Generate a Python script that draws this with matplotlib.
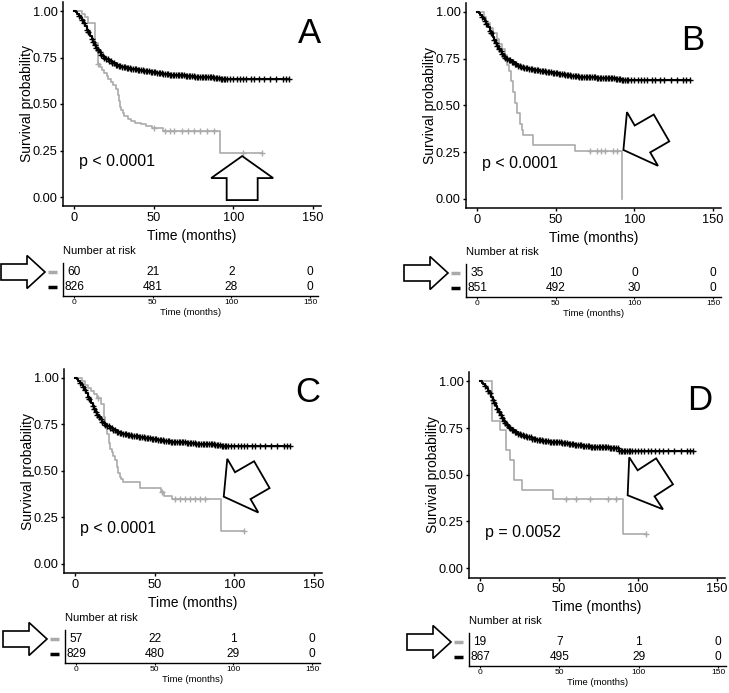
import numpy as np
import matplotlib
matplotlib.use('Agg')
import matplotlib.pyplot as plt
from matplotlib.patches import Polygon

plt.rcParams['font.family'] = ['Liberation Sans', 'DejaVu Sans']

# ---- data ----
# large group (black), nearly the same in every panel
BLACK_TIME = [0, 1, 2, 3, 4, 5, 6, 7, 8, 9, 10, 11, 12, 13, 14, 15, 16, 17, 18, 19,
              20, 22, 24, 26, 28, 30, 33, 36, 40, 44, 48, 52, 56, 60, 65, 70, 76, 82, 88, 92]
BLACK_SURV = [1.0, .993, .985, .975, .963, .95, .935, .918, .9, .885, .868, .852, .835, .818,
              .802, .789, .777, .766, .756, .748, .741, .73, .72, .712, .705, .70, .694, .688,
              .682, .677, .673, .668, .663, .658, .654, .65, .647, .645, .642, .637]
BLACK_SURV_D = [1.0, .993, .985, .975, .963, .95, .935, .918, .9, .885, .868, .852, .835, .818,
                .802, .789, .777, .766, .756, .748, .741, .73, .72, .712, .705, .70, .694, .688,
                .682, .677, .673, .668, .663, .658, .654, .65, .647, .643, .627, .625]
BLACK_CENSOR = [3, 5, 6, 8, 9, 11, 12, 13, 14, 15, 16, 17, 18, 19, 20, 21, 22, 23, 24, 25,
                26, 27, 28, 29, 30, 31, 32, 33, 34, 35, 36, 37, 38, 39, 40, 41, 42, 43, 44, 45,
                46, 47, 48, 49, 50, 51, 52, 53, 54, 55, 56, 57, 58, 59, 60, 61, 62, 63, 64, 65,
                66, 67, 68, 69, 70, 71, 72, 73, 74, 75, 76, 77, 78, 79, 80, 81, 82, 83, 84, 85,
                86, 87, 88, 89, 90, 91, 92, 93, 94, 95, 96, 98, 100, 102, 104, 106, 108, 111,
                113, 116, 119, 123, 127, 131, 133, 135]

# small group (gray), per panel
GRAY_TIME_A = [0, 5, 7, 9, 12.8, 14.7, 16, 17.5, 19, 20.5, 21.5, 23, 24.5, 26, 27.3, 28,
               28.7, 29.4, 30.5, 31.5, 33.5, 35.5, 38, 42, 45, 49, 56, 91.3]
GRAY_SURV_A = [1.0, .983, .967, .933, .83, .717, .70, .683, .667, .65, .633, .617, .60, .583,
               .55, .517, .483, .467, .45, .433, .42, .41, .40, .39, .38, .37, .355, .235]
GRAY_CENSOR_A = [15, 50.4, 57.1, 60.3, 62.4, 67.6, 71.8, 75, 79.1, 83.3, 87.5, 106.3, 117.8]

GRAY_TIME_B = [0, 4.7, 6, 8, 10, 12.5, 14, 16, 17.8, 19, 20, 21.5, 23, 24, 25.5, 27, 28.4,
               29.5, 35.8, 62.3, 92.4]
GRAY_SURV_B = [1.0, .971, .943, .914, .886, .857, .829, .80, .771, .714, .686, .629, .571,
               .514, .457, .40, .371, .343, .286, .257, 0.0]
GRAY_CENSOR_B = [71.8, 76, 79, 81.4, 86.7, 88.8]

GRAY_TIME_C = [0, 4, 6, 8, 10, 12, 14, 16, 18, 19, 20, 21, 22, 23, 24, 25, 26, 27, 28, 29,
               30, 40.7, 54, 56, 61, 91.5]
GRAY_SURV_C = [1.0, .982, .965, .947, .93, .912, .895, .86, .79, .737, .70, .65, .62, .60,
               .58, .56, .52, .49, .47, .456, .44, .41, .385, .368, .35, .175]
GRAY_CENSOR_C = [14.5, 54.3, 62.7, 65.9, 69, 72.1, 75.3, 78.4, 81.5, 106.1]

GRAY_TIME_D = [0, 7.6, 12.8, 16.5, 19, 21.5, 26.8, 46.3, 90.3]
GRAY_SURV_D = [1.0, .789, .737, .632, .579, .474, .421, .368, .184]
GRAY_CENSOR_D = [54.6, 60.4, 69.6, 81, 86.2, 105.2]

RISK_TIMES = [0, 50, 100, 150]
RISK_GRAY_A, RISK_BLACK_A = [60, 21, 2, 0], [826, 481, 28, 0]
RISK_GRAY_B, RISK_BLACK_B = [35, 10, 0, 0], [851, 492, 30, 0]
RISK_GRAY_C, RISK_BLACK_C = [57, 22, 1, 0], [829, 480, 29, 0]
RISK_GRAY_D, RISK_BLACK_D = [19, 7, 1, 0], [867, 495, 29, 0]

PVALS = ["p < 0.0001", "p < 0.0001", "p < 0.0001", "p = 0.0052"]
LETTERS = ["A", "B", "C", "D"]

GRAY = '#aaaaaa'
W, H = 729, 693

fig = plt.figure(figsize=(W / 100, H / 100), dpi=100)


def px_axes(left, top, right, bottom):
    return fig.add_axes([left / W, 1 - bottom / H, (right - left) / W, (bottom - top) / H])


def step_at(times, surv, c):
    idx = np.searchsorted(times, c, side='right') - 1
    return np.asarray(surv)[idx]


def plot_km(ax, times, surv, censor, color, lw, z):
    x, y = list(times), list(surv)
    end = max(censor)
    if end > x[-1]:
        x.append(end)
        y.append(y[-1])
    ax.plot(x, y, drawstyle='steps-post', color=color, lw=lw, zorder=z)
    ax.plot(censor, step_at(times, surv, censor), ls='none', marker='+',
            ms=4.5, mew=1.0, color=color, zorder=z)


def arrow_poly(tip, angle, length, head_len, head_w, shaft_w):
    # local shape points along +x with tip at origin, then rotate (y up) into image pixels
    pts = np.array([[0, 0], [-head_len, head_w / 2], [-head_len, shaft_w / 2],
                    [-length, shaft_w / 2], [-length, -shaft_w / 2],
                    [-head_len, -shaft_w / 2], [-head_len, -head_w / 2]])
    a = np.deg2rad(angle)
    rot = np.array([[np.cos(a), -np.sin(a)], [np.sin(a), np.cos(a)]])
    p = pts @ rot.T
    return np.column_stack([tip[0] + p[:, 0], tip[1] - p[:, 1]])


def to_img(ax, x, y):
    dx, dy = ax.transData.transform((x, y))
    return dx, H - dy


panels = [
    dict(main=(63, 1.7, 321, 206.3), table=(63, 263, 318, 296),
         gray=(GRAY_TIME_A, GRAY_SURV_A, GRAY_CENSOR_A), black=BLACK_SURV,
         risk=(RISK_GRAY_A, RISK_BLACK_A), arrow=((105.5, 0.22), 90), letter=(147.5, 0.88)),
    dict(main=(466, 2.6, 721, 208.3), table=(466, 264, 721, 297),
         gray=(GRAY_TIME_B, GRAY_SURV_B, GRAY_CENSOR_B), black=BLACK_SURV,
         risk=(RISK_GRAY_B, RISK_BLACK_B), arrow=((93, 0.262), 210), letter=(137, 0.85)),
    dict(main=(64, 368.7, 322, 573.3), table=(65, 630, 320, 663),
         gray=(GRAY_TIME_C, GRAY_SURV_C, GRAY_CENSOR_C), black=BLACK_SURV,
         risk=(RISK_GRAY_C, RISK_BLACK_C), arrow=((93.3, 0.362), 210), letter=(146, 0.92)),
    dict(main=(469, 372, 725, 577.5), table=(469, 633, 726, 666),
         gray=(GRAY_TIME_D, GRAY_SURV_D, GRAY_CENSOR_D), black=BLACK_SURV_D,
         risk=(RISK_GRAY_D, RISK_BLACK_D), arrow=((93.4, 0.39), 213), letter=(139, 0.90)),
]

overlay = fig.add_axes([0, 0, 1, 1], zorder=10)
overlay.set_xlim(0, W)
overlay.set_ylim(H, 0)
overlay.axis('off')
overlay.patch.set_alpha(0)

for i, p in enumerate(panels):
    ax = px_axes(*p['main'])
    ax.set_xlim(-7, 155)
    ax.set_ylim(-0.05, 1.05)
    gt, gs, gc = p['gray']
    plot_km(ax, gt, gs, gc, GRAY, 1.2, 2)
    plot_km(ax, BLACK_TIME, p['black'], BLACK_CENSOR, 'black', 1.5, 3)
    ax.set_xticks([0, 50, 100, 150])
    ax.set_yticks([0, 0.25, 0.5, 0.75, 1.0])
    ax.set_yticklabels(['0.00', '0.25', '0.50', '0.75', '1.00'])
    for s in ['top', 'right']:
        ax.spines[s].set_visible(False)
    for s in ['left', 'bottom']:
        ax.spines[s].set_linewidth(1.1)
    ax.tick_params(length=2.5, width=1.0, pad=1.5, labelsize=9.2, colors='black')
    ax.set_xlabel("Time (months)", fontsize=10, labelpad=3.5)
    ax.set_ylabel("Survival probability", fontsize=10, labelpad=-1)
    ax.text(3, 0.19, PVALS[i], fontsize=11.5, ha='left', va='center')
    ax.text(p['letter'][0], p['letter'][1], LETTERS[i], fontsize=25, ha='center', va='center')
    ax.patch.set_alpha(0)

    # arrow on the main plot
    tip = to_img(ax, *p['arrow'][0])
    overlay.add_patch(Polygon(arrow_poly(tip, p['arrow'][1], 44, 22, 62, 31),
                              closed=True, facecolor='white', edgecolor='black', lw=1.3))

    # number at risk table
    tb = px_axes(*p['table'])
    tb.set_xlim(-7, 155)
    tb.set_ylim(-0.6, 1.6)
    rg, rb = p['risk']
    for t, n1, n2 in zip(RISK_TIMES, rg, rb):
        tb.text(t, 1, str(n1), ha='center', va='center', fontsize=8.6)
        tb.text(t, 0, str(n2), ha='center', va='center', fontsize=8.6)
    tb.set_xticks(RISK_TIMES)
    tb.set_yticks([])
    for s in ['top', 'right']:
        tb.spines[s].set_visible(False)
    for s in ['left', 'bottom']:
        tb.spines[s].set_linewidth(1.0)
    tb.tick_params(axis='x', length=1.5, width=0.8, pad=1, labelsize=6)
    tb.set_xlabel("Time (months)", fontsize=6.8, labelpad=1)
    tb.annotate("Number at risk", xy=(0, 1), xycoords='axes fraction', xytext=(0, 12),
                textcoords='offset pixels', ha='left', va='center', fontsize=8)
    tb.patch.set_alpha(0)

    left = p['table'][0]
    _, y_gray = to_img(tb, 0, 1)
    _, y_black = to_img(tb, 0, 0)
    overlay.plot([left - 15, left - 6], [y_gray, y_gray], color=GRAY, lw=2.5, solid_capstyle='butt')
    overlay.plot([left - 15, left - 6], [y_black, y_black], color='black', lw=2.5,
                 solid_capstyle='butt')
    overlay.add_patch(Polygon(arrow_poly((left - 18, y_gray), 0, 44, 18, 33, 16),
                              closed=True, facecolor='white', edgecolor='black', lw=1.2))

fig.savefig('out.png', dpi=100)
